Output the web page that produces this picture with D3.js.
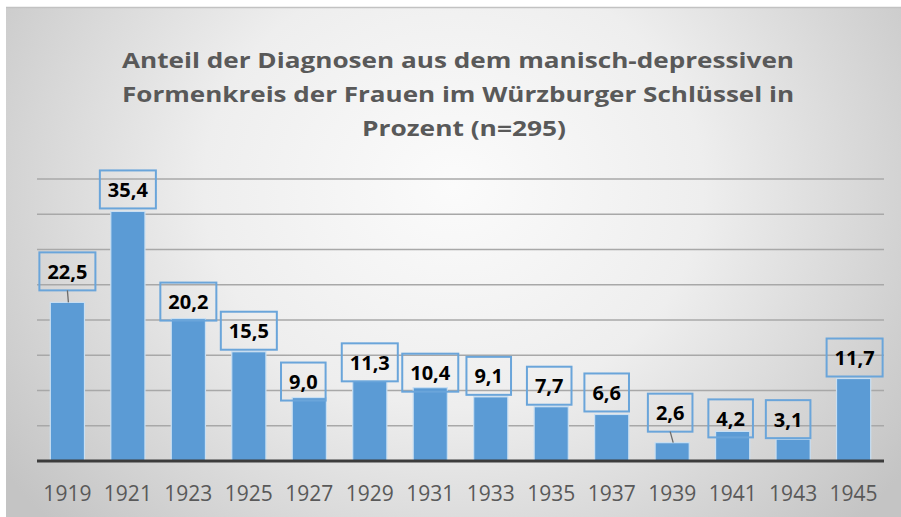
<!DOCTYPE html>
<html>
<head>
<meta charset="utf-8">
<script src="https://cdn.jsdelivr.net/npm/d3@7"></script>
<style>
  html, body { margin: 0; padding: 0; background: #ffffff; }
  svg { display: block; }
</style>
</head>
<body>
<svg id="chart" width="901" height="517"></svg>
<script>
// ---- data ----
const years = ["1919","1921","1923","1925","1927","1929","1931","1933","1935","1937","1939","1941","1943","1945"];
const values = [22.5, 35.4, 20.2, 15.5, 9.0, 11.3, 10.4, 9.1, 7.7, 6.6, 2.6, 4.2, 3.1, 11.7];
const yTicks = [0, 5, 10, 15, 20, 25, 30, 35, 40];
const titleLines = [
  "Anteil der Diagnosen aus dem manisch-depressiven",
  "Formenkreis der Frauen im Würzburger Schlüssel in",
  "Prozent (n=295)"
];

// ---- layout of the manually placed data callouts (offsets from default spot) ----
const labelDx  = [0, 0, 0, 0, -6, 0, 0, -2, -2, -5, -2, -2, -5, 1];
const labelGap = [12, 3, -2, 2, -3, 0, -4, 2, 2, 3, 11, -6, 1, 2];
const labelLeader = [true, false, false, false, false, false, false, false, false, false, true, false, false, false];

const svg = d3.select("#chart");
const W = 901, H = 517;

// background
const defs = svg.append("defs");
const grad = defs.append("radialGradient").attr("id", "bg")
  .attr("cx", "0.5").attr("cy", "0.35").attr("r", "0.62")
  .attr("gradientTransform", "translate(0.5,0.35) scale(1,1.55) translate(-0.5,-0.35)");
grad.append("stop").attr("offset", "0").attr("stop-color", "#fbfbfb");
grad.append("stop").attr("offset", "0.45").attr("stop-color", "#eeeeee");
grad.append("stop").attr("offset", "1").attr("stop-color", "#c4c4c4");

svg.append("rect").attr("x", 6).attr("y", 7).attr("width", W - 6).attr("height", H - 7)
  .attr("fill", "url(#bg)");
svg.append("line").attr("x1", 6).attr("x2", W).attr("y1", 7.5).attr("y2", 7.5)
  .attr("stroke", "#c2c2c2").attr("stroke-width", 1.5);

// scales
const x = d3.scaleBand().domain(years).range([37, 884]).paddingInner(0.435).paddingOuter(0.22);
const y = d3.scaleLinear().domain([0, 40]).range([461, 179]);

// gridlines
svg.append("g").selectAll("line").data(yTicks.filter(t => t > 0)).join("line")
  .attr("x1", 37).attr("x2", 884)
  .attr("y1", d => y(d)).attr("y2", d => y(d))
  .attr("stroke", "#a8a8a8").attr("stroke-width", 1.6);

// bars
svg.append("g").selectAll("rect").data(values).join("rect")
  .attr("x", (d, i) => x(years[i]))
  .attr("y", d => y(d))
  .attr("width", x.bandwidth())
  .attr("height", d => y(0) - y(d))
  .attr("fill", "#5b9bd5")
  .attr("stroke", "#c9dff2").attr("stroke-width", 1.2);

// baseline axis
const xAxis = d3.axisBottom(x).tickSize(0).tickPadding(0);
const gx = svg.append("g").attr("transform", `translate(0,${y(0)})`).call(xAxis);
gx.select(".domain").attr("d", "M37,0H884").attr("stroke", "#3c3c3c").attr("stroke-width", 3);
gx.selectAll(".tick text")
  .attr("y", 40).attr("dy", null)
  .attr("font-family", "'Open Sans', sans-serif").attr("font-size", 21)
  .attr("fill", "#595959");

// data labels
const fmt = v => d3.format(".1f")(v).replace(".", ",");
const lg = svg.append("g");
values.forEach((v, i) => {
  const cx = x(years[i]) + x.bandwidth() / 2 + labelDx[i];
  const boxH = 38;
  const bottom = y(v) - labelGap[i];
  const top = bottom - boxH;
  const t = lg.append("text")
    .attr("x", cx).attr("y", top + 26.5)
    .attr("text-anchor", "middle")
    .attr("font-family", "'Open Sans', sans-serif").attr("font-weight", "bold")
    .attr("font-size", 20).attr("fill", "#000")
    .text(fmt(v));
  const tw = t.node().getComputedTextLength();
  const bw = tw + 16;
  lg.insert("rect", "text")
    .attr("x", cx - bw / 2).attr("y", top).attr("width", bw).attr("height", boxH)
    .attr("fill", "none").attr("stroke", "#6aa5da").attr("stroke-width", 2);
  if (labelLeader[i]) {
    lg.append("line")
      .attr("x1", cx).attr("y1", bottom)
      .attr("x2", x(years[i]) + x.bandwidth() / 2 + 1).attr("y2", y(v))
      .attr("stroke", "#6b6b6b").attr("stroke-width", 1.3);
  }
});

// title
const titleX = [458, 458, 464];
const titleW = [672, 672, 204];
const titleY = [68, 102, 136];
svg.append("g").selectAll("text").data(titleLines).join("text")
  .attr("x", (d, i) => titleX[i]).attr("y", (d, i) => titleY[i])
  .attr("text-anchor", "middle")
  .attr("font-family", "'Open Sans', sans-serif").attr("font-weight", "bold")
  .attr("font-size", 22).attr("fill", "#595959")
  .attr("textLength", (d, i) => titleW[i]).attr("lengthAdjust", "spacingAndGlyphs")
  .text(d => d);
</script>
</body>
</html>
